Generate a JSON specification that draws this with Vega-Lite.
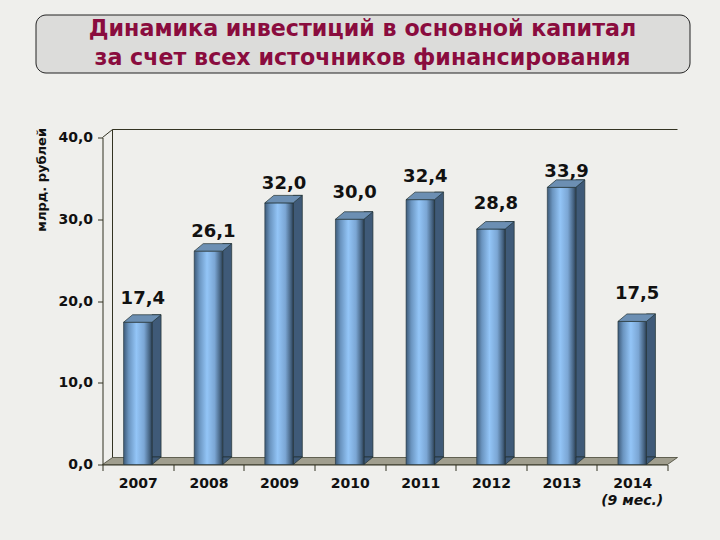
{
"$schema":"https://vega.github.io/schema/vega-lite/v6.json",
"background":"#efefec",
"padding":{"left":34.5,"top":13.5,"right":31.5,"bottom":33.5},
"align":"none",
"spacing":54,
"config":{"view":{"stroke":null},"font":"DejaVu Sans"},
"datasets":{
"bars":[
{"year":"2007","value":17.4,"label":"17,4","labelAt":19.6},
{"year":"2008","value":26.1,"label":"26,1","labelAt":27.8},
{"year":"2009","value":32.0,"label":"32,0","labelAt":33.7},
{"year":"2010","value":30.0,"label":"30,0","labelAt":32.6},
{"year":"2011","value":32.4,"label":"32,4","labelAt":34.5},
{"year":"2012","value":28.8,"label":"28,8","labelAt":31.3},
{"year":"2013","value":33.9,"label":"33,9","labelAt":35.2},
{"year":"2014","value":17.5,"label":"17,5","labelAt":20.2,"note":"(9 мес.)"}
],
"titleLines":[
{"line":1,"text":"Динамика инвестиций в основной капитал"},
{"line":2,"text":"за счет всех источников финансирования"}
]
},
"vconcat":[
{"width":654,"height":58,
"view":{"fill":"#dcdcda","stroke":"#222222","strokeWidth":1,"cornerRadius":10},
"data":{"name":"titleLines"},
"mark":{"type":"text","font":"DejaVu Sans","fontWeight":"bold","fontSize":22.2,"color":"#8a0c3e","baseline":"middle"},
"encoding":{
"y":{"field":"line","type":"ordinal","axis":null,"scale":{"type":"point","padding":0.535}},
"text":{"field":"text"}
}},
{"width":654,"height":327,
"data":{"name":"bars"},
"encoding":{
"x":{"field":"year","type":"nominal","title":null,
"scale":{"type":"band","paddingInner":0,"paddingOuter":0,"range":[67,632]},
"axis":{"labelAngle":0,"labelFontSize":14,"labelFontWeight":"bold","labelColor":"#111111","labelPadding":6,"tickBand":"extent","tickSize":6,"tickColor":"#333322","domainColor":"#333322","labelFont":"DejaVu Sans"}},
"y":{"field":"value","type":"quantitative","title":"млрд. рублей",
"scale":{"domain":[0,40],"nice":false},
"axis":{"offset":-67,"values":[0,10,20,30,40],"labelExpr":"replace(format(datum.value,'.1f'),'.',',')","grid":false,"labelFontSize":14,"labelFontWeight":"bold","labelColor":"#111111","labelPadding":5,"tickSize":5,"tickColor":"#333322","domainColor":"#333322","titleFontSize":13,"titleFontWeight":"bold","titleColor":"#111111","titleAnchor":"end","titleAlign":"right","titlePadding":6,"titleX":-54,"titleY":-10}}
},
"layer":[
{"transform":[{"filter":"datum.year=='2007'"}],
"mark":{"type":"point","shape":"M-35.3 0L-25.3 -7L539.7 -7L529.7 0Z","size":4,"filled":true,"fill":"#a09e8e","stroke":"#333322","strokeWidth":0.7,"opacity":1},
"encoding":{"y":{"datum":0}}},
{"transform":[{"filter":"datum.year=='2007'"}],
"mark":{"type":"point","shape":"M-35.3 -327L-25.3 -335L-25.3 -7M-25.3 -335L539.7 -335","size":4,"filled":false,"stroke":"#333322","strokeWidth":1,"opacity":1},
"encoding":{"y":{"datum":0}}},
{"mark":{"type":"bar","width":9,"xOffset":18.75,"yOffset":-7.5,"y2Offset":-7.5,"fill":"#3f5a78","stroke":"#1f2f30","strokeWidth":0.7},
"encoding":{"y2":{"datum":0}}},
{"mark":{"type":"point","shape":"M14.25 0L23.25 -7.5L14.25 -7.5Z","size":4,"filled":true,"fill":"#3f5a78","stroke":"#1f2f30","strokeWidth":0.7,"opacity":1},
"encoding":{"y":{"datum":0}}},
{"mark":{"type":"bar","width":28.5,"stroke":"#22323a","strokeWidth":0.6,
"fill":{"gradient":"linear","x1":0,"x2":1,"y1":0,"y2":0,"stops":[
{"offset":0,"color":"#3d5a78"},{"offset":0.18,"color":"#6a94bf"},{"offset":0.45,"color":"#93c5f7"},{"offset":0.72,"color":"#7ba6d4"},{"offset":0.92,"color":"#44617f"},{"offset":1,"color":"#2b3f52"}]}},
"encoding":{"y2":{"datum":0}}},
{"mark":{"type":"point","shape":"M-14.25 0L-5.25 -7.5L23.25 -7.5L14.25 0Z","size":4,"filled":true,"fill":"#6c8fb3","stroke":"#1f2f30","strokeWidth":0.7,"opacity":1}},
{"mark":{"type":"text","fontSize":18,"fontWeight":"bold","color":"#111111","baseline":"alphabetic","dx":5,"font":"DejaVu Sans"},
"encoding":{"y":{"field":"labelAt","type":"quantitative"},"text":{"field":"label"}}},
{"transform":[{"filter":"isValid(datum.note)"}],
"mark":{"type":"text","fontSize":14,"fontWeight":"bold","fontStyle":"italic","color":"#111111","baseline":"middle","yOffset":36,"font":"DejaVu Sans"},
"encoding":{"y":{"datum":0},"text":{"field":"note"}}}
]}
]}
